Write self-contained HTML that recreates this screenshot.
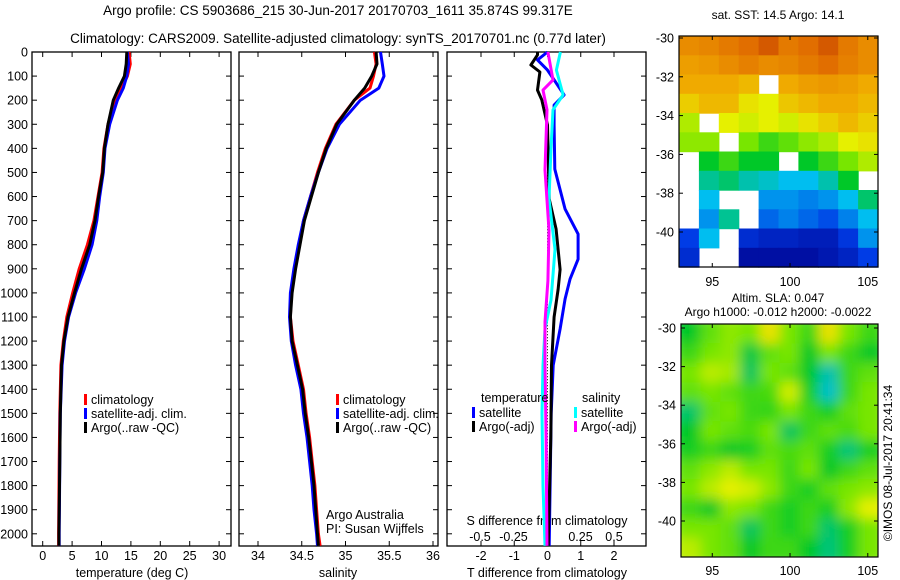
<!DOCTYPE html>
<html><head><meta charset="utf-8"><style>
html,body{margin:0;padding:0;background:#fff;}
svg{display:block;font-family:"Liberation Sans",sans-serif;}
text{fill:#000;}
</style></head><body>
<svg id="fig" width="900" height="580" viewBox="0 0 900 580" xmlns="http://www.w3.org/2000/svg">
<defs>
<filter id="blur" x="-5%" y="-5%" width="110%" height="110%"><feGaussianBlur stdDeviation="6"/></filter>
<clipPath id="slaclip"><rect x="681" y="324" width="197" height="233"/></clipPath>
</defs>
<text x="338" y="15" font-size="13.5" text-anchor="middle">Argo profile: CS 5903686_215 30-Jun-2017 20170703_1611 35.874S 99.317E</text>
<text x="338" y="43" font-size="13.5" text-anchor="middle">Climatology: CARS2009. Satellite-adjusted climatology: synTS_20170701.nc (0.77d later)</text>
<g id="g"></g>
</svg>
<script>
// ---- data ----
const depthTicks=[0,100,200,300,400,500,600,700,800,900,1000,1100,1200,1300,1400,1500,1600,1700,1800,1900,2000];
const tDepth=[0,50,100,150,200,300,400,500,600,700,800,900,1000,1100,1200,1300,1500,1700,2000,2050];
const tClim=[14.7,14.9,14.4,13.4,12.3,11.1,10.4,10.1,9.4,8.7,7.6,6.2,5.1,4.1,3.5,3.1,2.9,2.8,2.7,2.7];
const tSat=[14.4,14.6,14.3,13.7,12.7,11.4,10.6,10.3,9.7,9.2,8.4,7.1,5.6,4.4,3.7,3.3,3.0,2.9,2.8,2.8];
const tArgo=[14.3,14.2,13.9,12.9,12.0,11.1,10.5,10.2,9.5,8.9,8.0,6.6,5.4,4.3,3.6,3.2,3.0,2.9,2.75,2.75];
const sDepth=[0,50,100,150,200,300,400,500,600,700,800,900,1000,1100,1200,1300,1400,1500,1600,1700,1800,1900,2000,2050];
const sClim=[35.33,35.35,35.32,35.28,35.1,34.89,34.77,34.68,34.6,34.52,34.47,34.42,34.38,34.37,34.4,34.46,34.52,34.55,34.59,34.62,34.65,34.67,34.69,34.71];
const sSat=[35.4,35.42,35.44,35.38,35.17,34.93,34.79,34.69,34.6,34.52,34.46,34.41,34.37,34.36,34.38,34.43,34.49,34.52,34.56,34.59,34.62,34.64,34.67,34.68];
const sArgo=[35.35,35.36,35.3,35.22,35.1,34.9,34.78,34.69,34.61,34.53,34.48,34.43,34.39,34.37,34.39,34.45,34.51,34.54,34.58,34.61,34.64,34.66,34.68,34.69];
const dtSatDepth=[0,33,75,116,178,220,303,486,652,756,860,942,1025,1150,1300,1500,2050];
const dtSat=[0,-0.3,0,0.2,0.5,0.2,0.2,0.22,0.53,0.92,0.92,0.68,0.53,0.38,0.17,0.11,0.05];
const dtArgoDepth=[0,12,54,83,158,199,303,610,735,903,986,1100,1300,1600,2050];
const dtArgo=[-0.3,-0.3,-0.5,-0.23,-0.3,-0.17,0,0.05,0.26,0.38,0.32,0.2,0.12,0.1,0.02];
const dsArgoDepth=[0,116,158,240,490,740,950,1120,1300,1600,2050];
const dsArgo=[0.007,0.045,-0.03,0,-0.015,0.015,0.007,-0.015,-0.015,-0.007,0];
const dsSatDepth=[0,75,178,240,400,610,820,1030,1150,1300,1500,1800,2050];
const dsSat=[0.1,0.07,0.12,0.045,0.03,0.015,0.06,0.03,-0.015,-0.03,-0.037,-0.03,-0.015];
const tTicks=[0,5,10,15,20,25,30];
const sTicks=[34,34.5,35,35.5,36];
const dtTicks=[-2,-1,0,1,2];
const dsTicks=[-0.5,-0.25,0,0.25,0.5];
const dsTickLabels=["-0.5","-0.25","0","0.25","0.5"];
const latTicks=[-30,-32,-34,-36,-38,-40];
const lonTicks=[95,100,105];
// SST map grid (colour index 0..1, null = no data), rows north->south
const sstGrid=[
[0.85,0.86,0.88,0.9,0.93,0.88,0.9,0.93,0.88,0.85],
[0.82,0.83,0.85,0.87,0.85,0.86,0.88,0.9,0.87,0.85],
[0.8,0.8,0.8,0.78,null,0.8,0.82,0.83,0.82,0.8],
[0.75,0.78,0.78,0.72,0.7,0.76,0.78,0.8,0.8,0.78],
[0.65,null,0.7,0.68,0.7,0.68,0.72,0.75,0.78,0.75],
[0.62,0.62,null,0.6,0.55,0.58,0.62,0.65,0.7,0.72],
[null,0.5,0.55,0.5,0.5,null,0.5,0.55,0.6,0.65],
[null,0.42,0.45,0.4,0.38,0.35,0.35,0.4,0.5,null],
[null,0.35,null,null,0.3,0.3,0.28,0.3,0.35,0.45],
[null,0.3,0.42,null,0.25,0.28,0.25,0.22,0.28,0.35],
[0.2,0.35,null,0.15,0.12,0.12,0.1,0.1,0.18,0.3],
[0.15,null,null,0.05,0.05,0.05,0.05,0.08,0.12,0.2]];
// SLA map grid (colour index), rows north->south
const slaGrid=[
[0.5,0.58,0.62,0.6,0.72,0.6,0.55,0.72,0.6,0.55],
[0.55,0.6,0.62,0.48,0.58,0.6,0.5,0.6,0.55,0.5],
[0.6,0.66,0.64,0.46,0.6,0.58,0.5,0.4,0.55,0.58],
[0.58,0.6,0.58,0.55,0.56,0.68,0.52,0.38,0.55,0.6],
[0.45,0.58,0.6,0.55,0.54,0.6,0.55,0.52,0.58,0.6],
[0.5,0.6,0.58,0.56,0.6,0.46,0.55,0.58,0.56,0.6],
[0.52,0.55,0.5,0.52,0.58,0.56,0.58,0.52,0.44,0.52],
[0.58,0.62,0.66,0.6,0.6,0.55,0.6,0.5,0.55,0.58],
[0.6,0.66,0.7,0.68,0.62,0.55,0.52,0.58,0.6,0.62],
[0.55,0.5,0.62,0.6,0.55,0.52,0.55,0.52,0.62,0.7],
[0.6,0.6,0.58,0.46,0.55,0.52,0.55,0.45,0.52,0.6],
[0.66,0.6,0.58,0.5,0.55,0.55,0.5,0.44,0.52,0.6]];

// ---- helpers ----
const NS="http://www.w3.org/2000/svg";
const G=document.getElementById('g');
function mk(tag,attrs,parent){const e=document.createElementNS(NS,tag);for(const k in attrs)e.setAttribute(k,attrs[k]);(parent||G).appendChild(e);return e;}
const top0=52,bot=546;
const yD=d=>top0+d*0.2409;
const xT=v=>42.7+v*5.88;
const xS=v=>258+(v-34)*87.5;
const xDT=v=>547.5+v*33.25;
const xDS=v=>547+v*134;

function frame(x0,x1,name){
  const r=mk('rect',{x:x0,y:top0,width:x1-x0,height:bot-top0,fill:'none',stroke:'#000','stroke-width':1.3});
  
  
  depthTicks.forEach(d=>{const y=yD(d);
    mk('line',{x1:x0,x2:x0+5,y1:y,y2:y,stroke:'#000'});
    mk('line',{x1:x1-5,x2:x1,y1:y,y2:y,stroke:'#000'});});
}
function xTicks(ticks,fx,x0,x1,labels,ly,name,top){
  ticks.forEach((v,i)=>{const x=fx(v);
    mk('line',{x1:x,x2:x,y1:bot-5,y2:bot,stroke:'#000'});
    if(top) mk('line',{x1:x,x2:x,y1:top0,y2:top0+5,stroke:'#000'});
    const t=mk('text',{x:x,y:ly,'font-size':12.5,'text-anchor':'middle'});t.textContent=labels?labels[i]:String(v);
    
    });
}
function line(depths,vals,fx,color,name,w){
  const pts=depths.map((d,i)=>fx(vals[i]).toFixed(1)+','+yD(d).toFixed(1)).join(' ');
  const p=mk('polyline',{points:pts,fill:'none',stroke:color,'stroke-width':w||3,'stroke-linejoin':'round'});
  
  
}
function txt(x,y,s,name,size,anchor){const t=mk('text',{x:x,y:y,'font-size':size||12.5,'text-anchor':anchor||'start'});t.textContent=s;
  
  return t;}
function legend(x,y,color,label,name){
  const r=mk('rect',{x:x,y:y-10,width:3,height:11,fill:color});
  
  
  txt(x+7,y,label,name);
}

depthTicks.forEach(d=>{txt(28,yD(d)+4.5,String(d),'y-tick-label',12.5,'end');});

// panel 1 temperature
frame(32,231,'temperature-panel');
xTicks(tTicks,xT,32,231,null,560,'temperature-tick-label',true);
txt(132,577,'temperature (deg C)','temperature-axis-title',12.5,'middle');
line(tDepth,tClim,xT,'#f00','temperature-climatology-line');
line(tDepth,tSat,xT,'#00f','temperature-satellite-line');
line(tDepth,tArgo,xT,'#000','temperature-argo-line');
legend(84,404,'#f00','climatology','temperature-legend-climatology');
legend(84,418,'#00f','satellite-adj. clim.','temperature-legend-satellite');
legend(84,432,'#000','Argo(..raw -QC)','temperature-legend-argo');

// panel 2 salinity
frame(239,438,'salinity-panel');
xTicks(sTicks,xS,239,438,null,560,'salinity-tick-label',true);
txt(338,577,'salinity','salinity-axis-title',12.5,'middle');
line(sDepth,sClim,xS,'#f00','salinity-climatology-line');
line(sDepth,sSat,xS,'#00f','salinity-satellite-line');
line(sDepth,sArgo,xS,'#000','salinity-argo-line');
legend(336,404,'#f00','climatology','salinity-legend-climatology');
legend(336,418,'#00f','satellite-adj. clim.','salinity-legend-satellite');
legend(336,432,'#000','Argo(..raw -QC)','salinity-legend-argo');
txt(326,519,'Argo Australia','credit-argo-australia');
txt(326,533,'PI: Susan Wijffels','credit-pi');

// panel 3 differences
frame(447,646,'difference-panel');
xTicks(dtTicks,xDT,447,646,null,560,'t-diff-tick-label',true);
dsTicks.forEach((v,i)=>{txt(xDS(v),541,dsTickLabels[i],'s-diff-tick-label',12.5,'middle');});
txt(547,525,'S difference from climatology','s-diff-axis-title',12.5,'middle');
txt(547,577,'T difference from climatology','t-diff-axis-title',12.5,'middle');
const zl=mk('line',{x1:xDT(0),x2:xDT(0),y1:yD(250),y2:bot,stroke:'#000','stroke-dasharray':'1,2'});


line(dtSatDepth,dtSat,xDT,'#00f','t-diff-satellite-line');
line(dtArgoDepth,dtArgo,xDT,'#000','t-diff-argo-line');
line(dsSatDepth,dsSat,xDS,'#0ff','s-diff-satellite-line');
line(dsArgoDepth,dsArgo,xDS,'#f0f','s-diff-argo-line');
txt(481,402,'temperature','legend-temperature-heading');
legend(472,417,'#00f','satellite','legend-t-satellite');
legend(472,431,'#000','Argo(-adj)','legend-t-argo');
txt(582,402,'salinity','legend-salinity-heading');
legend(574,417,'#0ff','satellite','legend-s-satellite');
legend(574,431,'#f0f','Argo(-adj)','legend-s-argo');

// ---- maps ----
function cmap(v){
  const stops=[[0,[0,0,140]],[0.2,[0,60,230]],[0.35,[0,190,240]],[0.5,[0,200,40]],[0.6,[120,230,0]],[0.7,[230,240,0]],[0.8,[240,170,0]],[0.9,[225,110,0]],[1,[180,40,0]]];
  for(let i=1;i<stops.length;i++){if(v<=stops[i][0]){const a=stops[i-1],b=stops[i],f=(v-a[0])/(b[0]-a[0]);
    return 'rgb('+a[1].map((c,k)=>Math.round(c+(b[1][k]-c)*f)).join(',')+')';}}
  return 'rgb(180,40,0)';
}
function map(x0,y0,x1,y1,latY0,latStep,grid,name,lonY,smooth){
  const rows=grid.length,cols=grid[0].length,cw=(x1-x0)/cols,ch=(y1-y0)/rows;
  let holder=G;
  if(smooth){
    const outer=mk('g',{'clip-path':'url(#slaclip)'});
    holder=mk('g',{filter:'url(#blur)'},outer);
  }
  grid.forEach((row,r)=>row.forEach((v,c)=>{
    if(v===null)return;
    const pad=smooth?8:0;
    const ex=x0+c*cw-(c===0?pad:0), ey=y0+r*ch-(r===0?pad:0);
    const ew=cw+0.6+(c===0?pad:0)+(c===cols-1?pad:0), eh=ch+0.6+(r===0?pad:0)+(r===rows-1?pad:0);
    const e=mk('rect',{x:ex.toFixed(1),y:ey.toFixed(1),width:ew.toFixed(1),height:eh.toFixed(1),fill:cmap(v)},holder);
    
    
  }));
  const f=mk('rect',{x:x0,y:y0,width:x1-x0,height:y1-y0,fill:'none',stroke:'#000','stroke-width':1.2});
  
  
  latTicks.forEach(l=>{const y=latY0+(-30-l)*latStep;
    mk('line',{x1:x0,x2:x0+4,y1:y,y2:y,stroke:'#000'});mk('line',{x1:x1-4,x2:x1,y1:y,y2:y,stroke:'#000'});
    txt(x0-5,y+4.5,String(l),name+'-lat-label',12.5,'end');});
  lonTicks.forEach(l=>{const x=679+(l-92.86)*15.55;
    mk('line',{x1:x,x2:x,y1:y0,y2:y0+4,stroke:'#000'});mk('line',{x1:x,x2:x,y1:y1-4,y2:y1,stroke:'#000'});
    txt(x,lonY,String(l),name+'-lon-label',12.5,'middle');});
}
map(679,36,878,267,38,19.4,sstGrid,'sst-map',286,false);
txt(778,19,'sat. SST: 14.5 Argo: 14.1','sst-map-title',12,'middle');
map(681,324,878,557,328,19.3,slaGrid,'sla-map',575,true);
txt(778,302,'Altim. SLA: 0.047','sla-map-title',12,'middle');
txt(778,316,'Argo h1000: -0.012 h2000: -0.0022','sla-map-subtitle',12,'middle');
const cr=txt(0,0,'©IMOS 08-Jul-2017 20:41:34','imos-timestamp',12,'middle');
cr.setAttribute('transform','translate(892,463) rotate(-90)');
</script>
</body></html>
